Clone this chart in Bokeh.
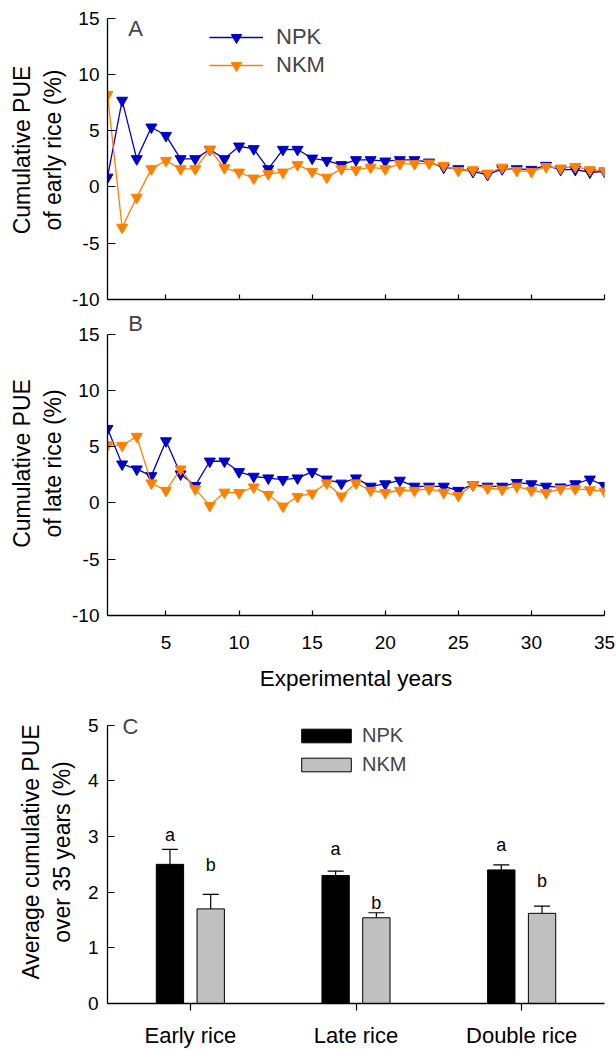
import numpy as np
from bokeh.plotting import figure
from bokeh.models import (Range1d, FixedTicker, Label, Legend, LegendItem,
                          ColumnDataSource, FactorRange, Whisker, TeeHead,
                          CustomLabelingPolicy)
from bokeh.transform import dodge
from bokeh.layouts import column
from bokeh.embed import file_html
from bokeh.resources import INLINE
from bokeh.core.properties import value

# ---------------- data ----------------
years = list(range(1, 36))
early_npk = [0.85, 7.68, 2.49, 5.30, 4.56, 2.49, 2.49, 3.32, 2.49, 3.61,
             3.38, 1.60, 3.32, 3.32, 2.54, 2.34, 1.96, 2.40, 2.40, 2.28,
             2.40, 2.40, 2.19, 1.74, 1.60, 1.36, 1.09, 1.60, 1.60, 1.54,
             1.90, 1.54, 1.54, 1.30, 1.36]
early_nkm = [8.19, -3.60, -0.93, 1.60, 2.34, 1.60, 1.60, 3.32, 1.69, 1.30,
             0.77, 1.16, 1.30, 1.96, 1.36, 0.85, 1.60, 1.51, 1.74, 1.60,
             2.05, 2.05, 2.10, 1.90, 1.45, 1.51, 1.21, 1.74, 1.45, 1.36,
             1.80, 1.66, 1.80, 1.51, 1.45]
late_npk = [6.60, 3.44, 3.00, 2.40, 5.50, 2.56, 1.53, 3.70, 3.70, 2.76,
            2.35, 2.20, 2.06, 2.20, 2.76, 2.10, 1.74, 2.20, 1.47, 1.68,
            2.00, 1.47, 1.47, 1.47, 1.10, 1.60, 1.47, 1.47, 1.80, 1.68,
            1.47, 1.40, 1.68, 2.10, 1.53]
late_nkm = [5.15, 5.10, 5.90, 1.76, 1.10, 3.00, 1.24, -0.24, 0.94, 0.90,
            1.40, 0.74, -0.30, 0.56, 0.85, 1.76, 0.60, 1.76, 1.10, 0.90,
            1.10, 1.10, 1.24, 0.94, 0.65, 1.60, 1.30, 1.20, 1.47, 1.10,
            0.90, 1.24, 1.24, 1.15, 1.03]
year_ticks = [5, 10, 15, 20, 25, 30, 35]
pue_ticks = [-10, -5, 0, 5, 10, 15]

categories = ["Early rice", "Late rice", "Double rice"]
avg_npk = [2.50, 2.30, 2.40]
avg_nkm = [1.70, 1.54, 1.62]
err_npk = [0.27, 0.08, 0.09]
err_nkm = [0.26, 0.09, 0.13]
letters_npk = ["a", "a", "a"]
letters_nkm = ["b", "b", "b"]
letter_y_npk = [3.02, 2.78, 2.85]
letter_y_nkm = [2.49, 1.80, 2.20]
avg_ticks = [0, 1, 2, 3, 4, 5]

FONT = "Liberation Sans"
BLUE = "#0000C8"
ORANGE = "#FF8000"


def style_axes(p, tick_font="19px"):
    for ax in list(p.xaxis) + list(p.yaxis):
        ax.axis_line_color = "black"
        ax.axis_line_width = 1.3
        ax.major_tick_line_color = "black"
        ax.major_tick_line_width = 1.2
        ax.minor_tick_line_color = None
        ax.major_label_text_font = FONT
        ax.major_label_text_font_size = tick_font
        ax.major_label_text_color = "black"
        ax.axis_label_text_font = FONT
        ax.axis_label_text_font_size = "22.5px"
        ax.axis_label_text_font_style = "normal"
        ax.axis_label_text_color = "black"
    p.yaxis.axis_label_text_font_size = "23px"
    p.yaxis.axis_label_text_align = "center"
    p.xgrid.grid_line_color = None
    p.ygrid.grid_line_color = None
    p.outline_line_color = None
    p.background_fill_color = "white"
    p.border_fill_color = "white"


PX_PER_UNIT = 56.3 / 5.0  # vertical scale of panels A and B


def line_panel(npk, nkm, ytitle, letter, height, top, bottom,
               show_xlabels, legend, letter_y):
    frame_h = height - top - bottom
    ytop = -10 + frame_h / PX_PER_UNIT
    p = figure(width=616, height=height, output_backend="svg",
               toolbar_location=None, x_range=Range1d(1, 35),
               y_range=Range1d(-10, ytop), min_border_left=106,
               min_border_right=12, min_border_top=top,
               min_border_bottom=bottom)
    style_axes(p)
    p.xaxis.ticker = FixedTicker(ticks=year_ticks)
    p.yaxis.ticker = FixedTicker(ticks=pue_ticks)
    p.yaxis.bounds = (-10, 15)
    p.yaxis.major_label_overrides = {t: str(t) for t in pue_ticks}
    p.xaxis.major_tick_in = 5
    p.xaxis.major_tick_out = 0
    p.yaxis.major_tick_in = 8
    p.yaxis.major_tick_out = 0
    p.yaxis.major_label_standoff = 8
    p.yaxis.axis_label = ytitle
    p.yaxis.axis_label_standoff = 3
    if show_xlabels:
        p.xaxis.major_label_standoff = 20
        p.xaxis.axis_label = "Experimental years"
        p.xaxis.axis_label_standoff = 14
    else:
        # ticks only: no labels are drawn on the upper panel's x axis
        p.xaxis.major_label_text_font_size = "0px"
        p.xaxis.major_label_standoff = 0
        p.xaxis.major_label_policy = CustomLabelingPolicy(code="return []")

    src = ColumnDataSource(dict(year=years, npk=npk, nkm=nkm))
    l1 = p.line("year", "npk", source=src, line_color=BLUE, line_width=1.3)
    s1 = p.scatter("year", "npk", source=src, marker="inverted_triangle",
                   size=11, fill_color=BLUE, line_color=BLUE)
    l2 = p.line("year", "nkm", source=src, line_color=ORANGE, line_width=1.3)
    s2 = p.scatter("year", "nkm", source=src, marker="inverted_triangle",
                   size=11, fill_color=ORANGE, line_color=ORANGE)

    if legend:
        lg = Legend(items=[LegendItem(label="NPK", renderers=[l1, s1]),
                           LegendItem(label="NKM", renderers=[l2, s2])],
                    location=(102, 221), glyph_width=54, glyph_height=26,
                    label_height=26, spacing=2, padding=0, margin=0,
                    label_standoff=13, label_text_font=FONT,
                    label_text_font_size="22px", border_line_color=None,
                    background_fill_alpha=0)
        p.add_layout(lg)

    p.add_layout(Label(x=28, y=letter_y, x_units="screen", y_units="screen",
                       text=letter, text_align="center",
                       text_baseline="middle", text_font=FONT,
                       text_font_size="22px"))
    return p


pA = line_panel(early_npk, early_nkm,
                "Cumulative PUE\nof early rice (%)", "A",
                height=310, top=0, bottom=11, show_xlabels=False,
                legend=True, letter_y=271)
pB = line_panel(late_npk, late_nkm,
                "Cumulative PUE\nof late rice (%)", "B",
                height=390, top=1, bottom=85, show_xlabels=True,
                legend=False, letter_y=292)

# ---------------- panel C ----------------
C_TOP, C_BOTTOM, C_H = 0, 47, 350
c_frame = C_H - C_TOP - C_BOTTOM
c_ytop = c_frame / (278.3 / 5.0)
pC = figure(width=616, height=C_H, output_backend="svg",
            toolbar_location=None,
            x_range=FactorRange(factors=categories, range_padding=0),
            y_range=Range1d(0, c_ytop), min_border_left=107,
            min_border_right=10, min_border_top=C_TOP,
            min_border_bottom=C_BOTTOM)
style_axes(pC)
pC.yaxis.ticker = FixedTicker(ticks=avg_ticks)
pC.yaxis.bounds = (0, 5)
pC.yaxis.major_tick_in = 7
pC.yaxis.major_tick_out = 0
pC.yaxis.major_label_standoff = 9
pC.yaxis.axis_label = "Average cumulative PUE\nover 35 years (%)"
pC.yaxis.axis_label_standoff = 10
pC.xaxis.major_tick_in = 0
pC.xaxis.major_tick_out = 7
pC.xaxis.major_label_standoff = 12
pC.xaxis.major_label_text_font_size = "22px"

srcC = ColumnDataSource(dict(
    cat=categories, npk=avg_npk, nkm=avg_nkm,
    npk_up=[v + e for v, e in zip(avg_npk, err_npk)],
    nkm_up=[v + e for v, e in zip(avg_nkm, err_nkm)],
    la=letters_npk, lb=letters_nkm, ya=letter_y_npk, yb=letter_y_nkm))

OFF = 0.123
W = 0.165
b1 = pC.vbar(x=dodge("cat", -OFF, range=pC.x_range), top="npk", width=W,
             source=srcC, fill_color="black", line_color="black")
b2 = pC.vbar(x=dodge("cat", OFF, range=pC.x_range), top="nkm", width=W,
             source=srcC, fill_color="#C0C0C0", line_color="black")
for off, lo, up in [(-OFF, "npk", "npk_up"), (OFF, "nkm", "nkm_up")]:
    w = Whisker(base=dodge("cat", off, range=pC.x_range), lower=lo, upper=up,
                source=srcC, dimension="height", line_color="black",
                line_width=1.2, lower_head=None,
                upper_head=TeeHead(size=16, line_color="black",
                                   line_width=1.2))
    pC.add_layout(w)
pC.text(x=dodge("cat", -OFF, range=pC.x_range), y="ya", text="la",
        source=srcC, text_align="center", text_baseline="middle",
        text_font=value(FONT), text_font_size="18px", text_color="black")
pC.text(x=dodge("cat", OFF, range=pC.x_range), y="yb", text="lb",
        source=srcC, text_align="center", text_baseline="middle",
        text_font=value(FONT), text_font_size="18px", text_color="black")

lgC = Legend(items=[LegendItem(label="NPK", renderers=[b1]),
                    LegendItem(label="NKM", renderers=[b2])],
             location=(188, 227), glyph_width=62, glyph_height=17,
             label_height=17, spacing=6, padding=0, margin=0,
             label_standoff=5, label_text_font=FONT,
             label_text_font_size="20px", border_line_color=None,
             background_fill_alpha=0)
pC.add_layout(lgC)

pC.add_layout(Label(x=23, y=277, x_units="screen", y_units="screen",
                    text="C", text_align="center", text_baseline="middle",
                    text_font=FONT, text_font_size="22px"))

layout = column(pA, pB, pC, spacing=0)
open("out.html", "w").write(file_html(layout, INLINE))
